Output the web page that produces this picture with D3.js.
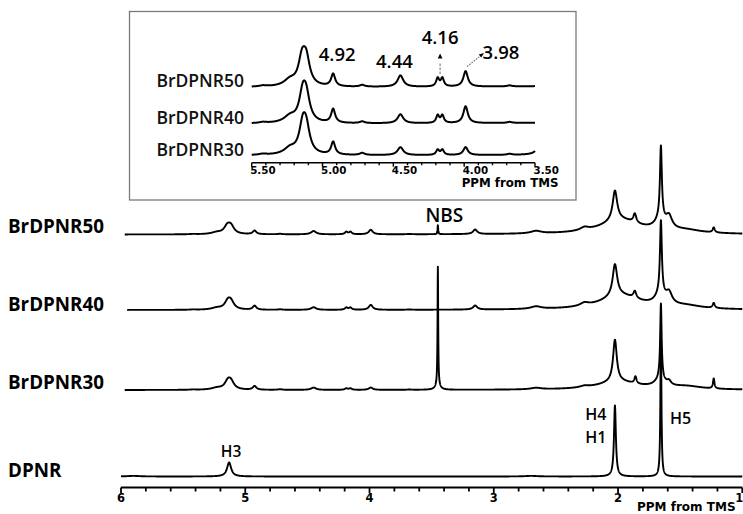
<!DOCTYPE html>
<html><head><meta charset="utf-8">
<script src="https://cdn.jsdelivr.net/npm/d3@7"></script>
<style>
html,body{margin:0;padding:0;background:#fff;}
svg{display:block;}
</style></head><body>
<svg id="chart" width="743" height="514"></svg>
<script>
// ---------------- DATA ----------------
const spectrumNames = ["BrDPNR50", "BrDPNR40", "BrDPNR30", "DPNR"];
const insetNames = ["BrDPNR50", "BrDPNR40", "BrDPNR30"];
const mainTicks = [6, 5, 4, 3, 2, 1];
const insetTicks = [5.5, 5.0, 4.5, 4.0, 3.5];
const insetTickLabels = ["5.50", "5.00", "4.50", "4.00", "3.50"];
const axisTitle = "PPM from TMS";
const insetShiftLabels = ["4.92", "4.44", "4.16", "3.98"];
const insetShiftPpm = [4.925, 4.45, 4.17, 3.99];
const mainPeakLabels = ["NBS", "H3", "H4", "H1", "H5"];

// peak tables: [ppm, height (relative), half width (ppm)]
const peaksBrDPNR50 = [
  [5.42, 0.3, 0.03], [5.23, 1.8, 0.05], [5.145, 7.2, 0.03], [5.115, 7.2, 0.03],
  [4.925, 3.6, 0.017], [4.72, 0.5, 0.02], [4.45, 3.3, 0.024],
  [4.187, 2.4, 0.013], [4.154, 2.4, 0.013], [3.99, 4.5, 0.019],
  [3.68, 0.3, 0.02], [3.45, 9, 0.003], [3.15, 4.5, 0.02],
  [2.66, 2.5, 0.05], [2.27, 3, 0.04], [1.98, 14, 0.2],
  [2.025, 30, 0.022], [1.865, 9, 0.014], [1.66, 10, 0.05],
  [1.655, 72, 0.009], [1.59, 12, 0.03], [1.45, 3, 0.15], [1.23, 5, 0.01]
];
const peaksBrDPNR40 = [
  [5.42, 0.3, 0.03], [5.23, 1.8, 0.05], [5.14, 7.5, 0.03], [5.115, 6.8, 0.03],
  [4.925, 4.0, 0.017], [4.72, 0.5, 0.02], [4.45, 2.6, 0.024],
  [4.187, 2.2, 0.013], [4.154, 2.2, 0.013], [3.99, 4.9, 0.019],
  [3.68, 0.3, 0.02], [3.15, 4, 0.02],
  [2.66, 2.5, 0.05], [2.27, 3, 0.04], [1.98, 14, 0.2],
  [2.025, 32, 0.022], [1.865, 7, 0.014], [1.66, 10, 0.05],
  [1.655, 73, 0.009], [1.59, 11, 0.03], [1.45, 3, 0.15], [1.23, 5, 0.01]
];
const peaksBrDPNR30 = [
  [5.42, 0.3, 0.03], [5.23, 1.8, 0.05], [5.14, 7.5, 0.03], [5.115, 6.8, 0.03],
  [4.925, 3.7, 0.017], [4.72, 0.6, 0.02], [4.45, 2.3, 0.024],
  [4.187, 1.5, 0.013], [4.154, 1.5, 0.013], [3.99, 2.3, 0.019],
  [3.68, 0.3, 0.02], [3.45, 118, 0.003], [3.45, 5, 0.02],
  [2.66, 1.5, 0.05], [2.27, 1.5, 0.04], [2.0, 8, 0.2],
  [2.025, 42, 0.018], [1.86, 7, 0.01], [1.66, 8, 0.05],
  [1.655, 75, 0.007], [1.59, 4, 0.02], [1.45, 3, 0.15], [1.23, 10, 0.007]
];
const peaksDPNR = [
  [5.9, 0.6, 0.06], [5.13, 14, 0.02], [2.7, 0.6, 0.06],
  [2.025, 71, 0.009], [1.655, 140, 0.005]
];
const peakTables = [peaksBrDPNR50, peaksBrDPNR40, peaksBrDPNR30, peaksDPNR];
const mainStartPpm = [5.97, 5.95, 5.97, 6.0];

// ---------------- LAYOUT ----------------
const svg = d3.select("#chart");
const W = 743, H = 514;
svg.append("rect").attr("width", W).attr("height", H).attr("fill", "#fff");

const xMain = d3.scaleLinear().domain([6, 1]).range([121, 742.3]);
const mainBaselines = [234.5, 310, 390, 476.5];
const mainLabelBaselines = [233, 311, 388.5, 477];
const axisY = 487.5;

const xInset = d3.scaleLinear().domain([5.5, 3.5]).range([251.7, 535]);
const insetBaselines = [87.3, 123.8, 155.5];
const insetPxPerUnit = 3.43;
const insetAxisY = 162.7;

function spectrum(peaks, hi, lo, step) {
  const xs = d3.range(lo, hi + 1e-9, step)
    .concat(peaks.map(p => p[0]).filter(v => v >= lo && v <= hi))
    .sort((a, b) => a - b);
  return xs.map(x => [x, d3.sum(peaks, ([c, h, w]) => h / (1 + ((x - c) / w) ** 2))]);
}

const labelFont = "'Open Sans', 'DejaVu Sans', sans-serif";
const axisFont = "'DejaVu Sans', sans-serif";

// ---------------- INSET BOX ----------------
svg.append("rect")
  .attr("x", 129.5).attr("y", 11.5).attr("width", 446.5).attr("height", 188.5)
  .attr("fill", "none").attr("stroke", "#7a7a7a").attr("stroke-width", 1.3);

// ---------------- MAIN TRACES ----------------
spectrumNames.forEach((name, i) => {
  const yS = d3.scaleLinear().domain([0, 1]).range([mainBaselines[i], mainBaselines[i] - 1]);
  const data = spectrum(peakTables[i], mainStartPpm[i], 1.0, 0.001);
  svg.append("path")
    .datum(data)
    .attr("fill", "none").attr("stroke", "#000").attr("stroke-width", 1.9)
    .attr("stroke-linejoin", "round")
    .attr("d", d3.line().x(d => xMain(d[0])).y(d => yS(d[1])));
  svg.append("text")
    .attr("x", 8).attr("y", mainLabelBaselines[i])
    .attr("font-family", labelFont).attr("font-weight", 700).attr("font-size", 18.8)
    .attr("fill", "#000").text(name);
});

// main axis
const mainAxisG = svg.append("g");
mainAxisG.append("line").attr("x1", xMain(6)).attr("x2", xMain(1)).attr("y1", axisY).attr("y2", axisY)
  .attr("stroke", "#000").attr("stroke-width", 1.8);
const minorMain = d3.range(0, 26).map(k => 6 - k * 0.2);
mainAxisG.selectAll("line.minor").data(minorMain).enter().append("line")
  .attr("x1", d => xMain(d)).attr("x2", d => xMain(d))
  .attr("y1", axisY).attr("y2", (d, k) => axisY + (k % 5 === 0 ? 5.5 : 4))
  .attr("stroke", "#000").attr("stroke-width", 1.8);
mainAxisG.selectAll("text.tick").data(mainTicks).enter().append("text")
  .attr("x", d => xMain(d) + (d === 1 ? -3 : 0)).attr("y", 501.5)
  .attr("text-anchor", "middle")
  .attr("font-family", axisFont).attr("font-weight", 700).attr("font-size", 11.5)
  .text(d => d);
svg.append("text").attr("x", 637).attr("y", 511)
  .attr("font-family", axisFont).attr("font-weight", 700).attr("font-size", 12)
  .text(axisTitle);

// main annotations
const annFont = 16;
svg.append("text").attr("x", xMain(3.45) + 6.5).attr("y", 222.3).attr("text-anchor", "middle")
  .attr("font-family", labelFont).attr("font-weight", 600).attr("font-size", 19).text(mainPeakLabels[0]);
svg.append("text").attr("x", xMain(5.13) + 2).attr("y", 457.3).attr("text-anchor", "middle")
  .attr("font-family", labelFont).attr("font-weight", 600).attr("font-size", 15.5).text(mainPeakLabels[1]);
svg.append("text").attr("x", xMain(2.025) - 8.5).attr("y", 420).attr("text-anchor", "end")
  .attr("font-family", labelFont).attr("font-weight", 600).attr("font-size", annFont).text(mainPeakLabels[2]);
svg.append("text").attr("x", xMain(2.025) - 8.5).attr("y", 442.5).attr("text-anchor", "end")
  .attr("font-family", labelFont).attr("font-weight", 600).attr("font-size", annFont).text(mainPeakLabels[3]);
svg.append("text").attr("x", xMain(1.655) + 9).attr("y", 424).attr("text-anchor", "start")
  .attr("font-family", labelFont).attr("font-weight", 600).attr("font-size", annFont).text(mainPeakLabels[4]);

// ---------------- INSET TRACES ----------------
insetNames.forEach((name, i) => {
  const b = insetBaselines[i];
  const yS = d3.scaleLinear().domain([0, 1]).range([b, b - insetPxPerUnit]);
  const data = spectrum(peakTables[i], 5.5, 3.5, 0.0005);
  svg.append("path")
    .datum(data)
    .attr("fill", "none").attr("stroke", "#000").attr("stroke-width", 2)
    .attr("stroke-linejoin", "round")
    .attr("d", d3.line().x(d => xInset(d[0])).y(d => yS(d[1])));
  svg.append("text")
    .attr("x", 244).attr("y", b).attr("text-anchor", "end")
    .attr("font-family", labelFont).attr("font-weight", 600).attr("font-size", 17.5)
    .attr("fill", "#111").text(name);
});

// inset axis
const insetAxisG = svg.append("g");
insetAxisG.append("line").attr("x1", xInset(5.5)).attr("x2", xInset(3.5))
  .attr("y1", insetAxisY).attr("y2", insetAxisY).attr("stroke", "#000").attr("stroke-width", 1.6);
const minorInset = d3.range(0, 21).map(k => 5.5 - k * 0.1);
insetAxisG.selectAll("line.minor").data(minorInset).enter().append("line")
  .attr("x1", d => xInset(d)).attr("x2", d => xInset(d))
  .attr("y1", insetAxisY).attr("y2", (d, k) => insetAxisY + (k % 5 === 0 ? 4 : 2.5))
  .attr("stroke", "#000").attr("stroke-width", 1.4);
insetAxisG.selectAll("text.tick").data(insetTicks).enter().append("text")
  .attr("x", d => xInset(d) - 1.5).attr("y", 174)
  .attr("font-family", axisFont).attr("font-weight", 700).attr("font-size", 10.3)
  .text((d, k) => insetTickLabels[k]);
svg.append("text").attr("x", 558.5).attr("y", 186.5).attr("text-anchor", "end")
  .attr("font-family", axisFont).attr("font-weight", 700).attr("font-size", 11.8)
  .text(axisTitle);

// inset shift annotations
const shiftFont = 18.5;
const shiftOffsets = [[4, 60.7, "middle"], [-6, 68.3, "middle"], [0, 44, "middle"], [17, 58.5, "start"]];
insetShiftLabels.forEach((t, k) => {
  svg.append("text")
    .attr("x", xInset(insetShiftPpm[k]) + shiftOffsets[k][0]).attr("y", shiftOffsets[k][1])
    .attr("text-anchor", shiftOffsets[k][2])
    .attr("font-family", labelFont).attr("font-weight", 600).attr("font-size", shiftFont)
    .text(t);
});
// arrow for 4.16
const x416 = xInset(4.17);
svg.append("path").attr("d", `M${x416},53.5 L${x416 - 2.3},58.5 L${x416 + 2.3},58.5 Z`).attr("fill", "#000");
svg.append("line").attr("x1", x416).attr("x2", x416).attr("y1", 63.5).attr("y2", 75)
  .attr("stroke", "#777").attr("stroke-width", 1.1).attr("stroke-dasharray", "2.5,1.5");
// arrow for 3.98
const x398 = xInset(3.99);
svg.append("line").attr("x1", x398 + 1.5).attr("y1", 66.5).attr("x2", x398 + 15).attr("y2", 55.8)
  .attr("stroke", "#777").attr("stroke-width", 1.1).attr("stroke-dasharray", "1.6,1.2");
svg.append("path")
  .attr("d", `M${x398 + 18.5},53 L${x398 + 13.2},54.6 L${x398 + 15.6},57.6 Z`).attr("fill", "#000");
</script>
</body></html>
